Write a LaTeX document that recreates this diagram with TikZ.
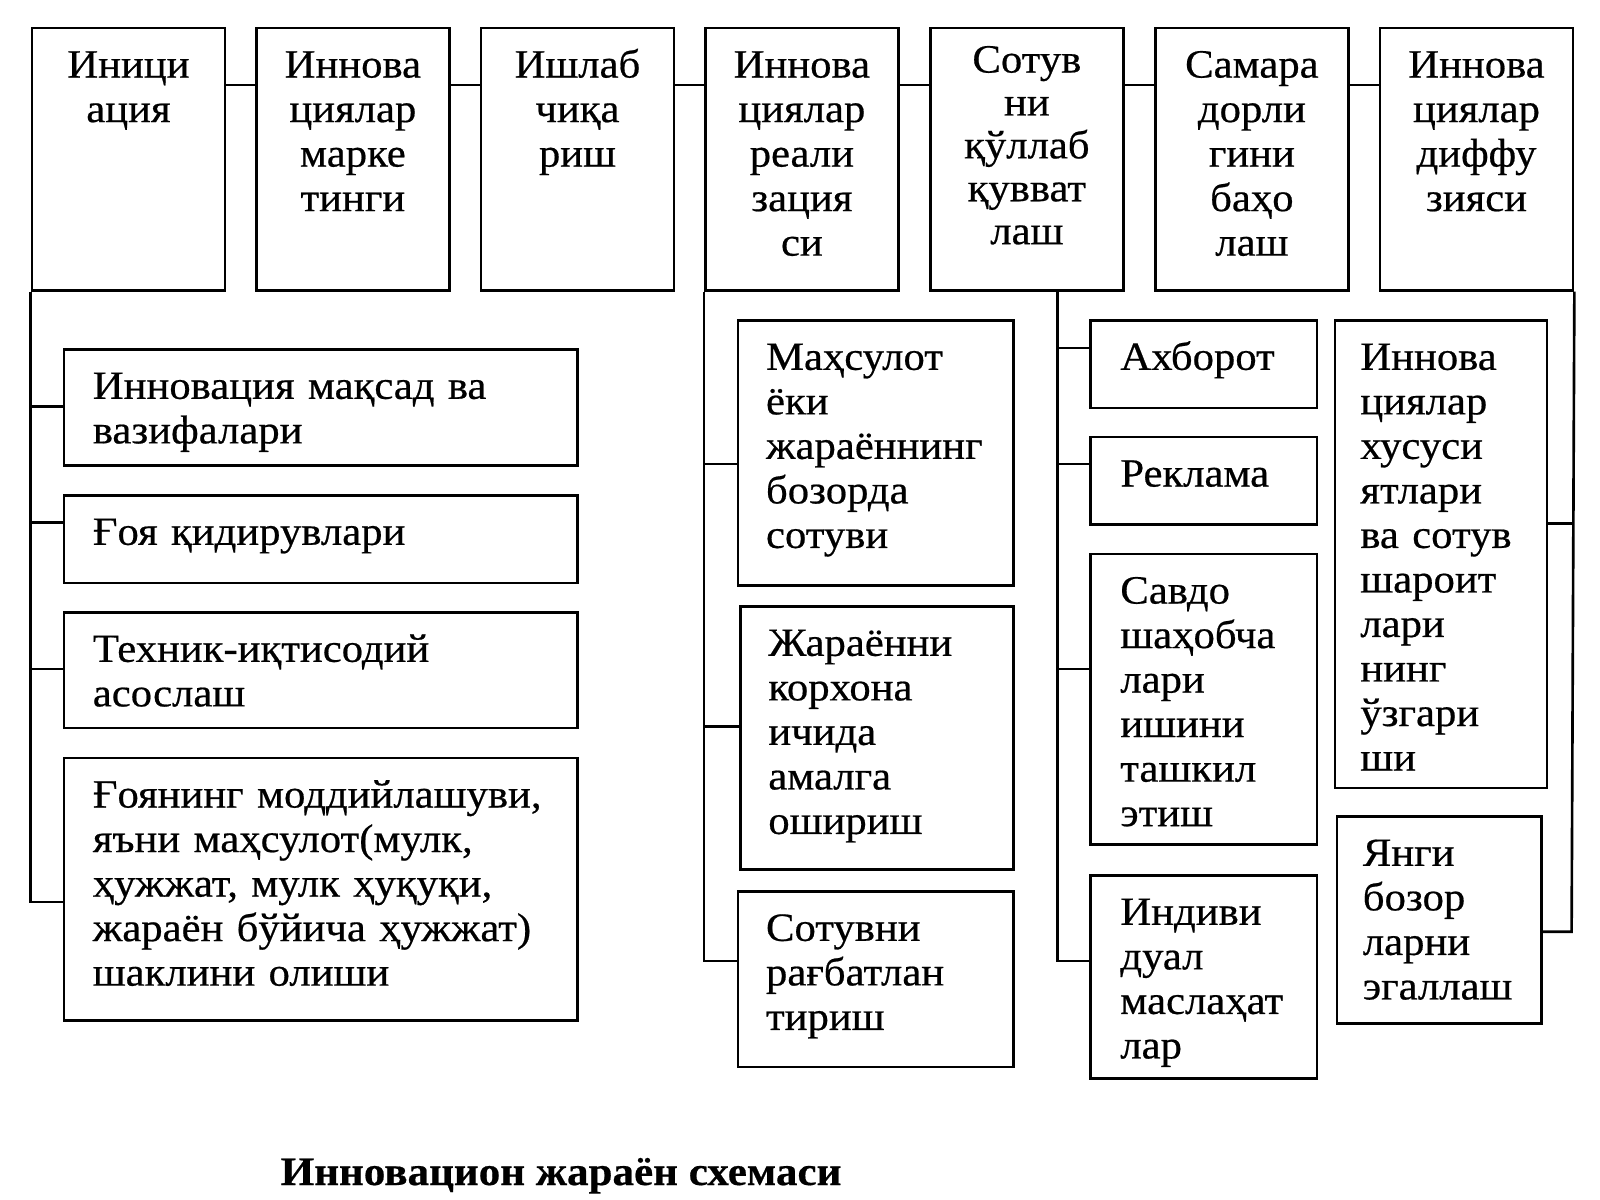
\documentclass[tikz,border=0pt]{standalone}
\usepackage{fontspec}
\setmainfont{Liberation Serif}[FakeStretch=1.065,FakeBold=0.5]
\newcommand{\boxfont}{\fontsize{11.4}{12.66}\selectfont}
\newcommand{\tightfont}{\fontsize{11.4}{12.2}\selectfont}
\newcommand{\titlefont}{\fontsize{11.5}{13}\selectfont\bfseries}

\begin{document}
\begin{tikzpicture}
[x=0.01cm,y=-0.01cm,
 box/.style={draw,line width=0.75pt,anchor=north west,inner ysep=0.215cm,text height=0.28cm,font=\boxfont,align=left},
 boxh/.code={\pgfmathsetlengthmacro\boxdp{#1*0.01cm-0.71cm}\tikzset{text depth=\boxdp}},
 topbox/.style={box,boxh=262.3,inner xsep=0.28cm,text width=1.37cm,align=center},
 leftbox/.style={box,inner xsep=0.29cm,text width=4.555cm},
 midbox/.style={box,inner xsep=0.28cm,text width=2.19cm},
 rightbox/.style={box,inner xsep=0.30cm,text width=1.665cm},
 link/.style={line width=0.75pt}]

% the page
\fill[white] (0,0) rectangle (1600,1200);

% the stages on top
\node[topbox] (t1) at (30.6,26.7) {Иници\\ация};
\node[topbox] (t2) at (255,26.7) {Иннова\\циялар\\марке\\тинги};
\node[topbox] (t3) at (479.6,26.7) {Ишлаб\\чиқа\\риш};
\node[topbox] (t4) at (704,26.7) {Иннова\\циялар\\реали\\зация\\си};
\node[topbox,font=\tightfont,text height=0.23cm,text depth=1.963cm] (t5) at (929,26.7) {Сотув\\ни\\қўллаб\\қувват\\лаш};
\node[topbox] (t6) at (1154,26.7) {Самара\\дорли\\гини\\баҳо\\лаш};
\node[topbox] (t7) at (1378.6,26.7) {Иннова\\циялар\\диффу\\зияси};

% the first column
\node[leftbox,boxh=116] (lA) at (62.5,348) {Инновация мақсад ва\\вазифалари};
\node[leftbox,boxh=87.7] (lB) at (62.5,494) {Ғоя қидирувлари};
\node[leftbox,boxh=115.7] (lC) at (62.5,611) {Техник-иқтисодий\\асослаш};
\node[leftbox,boxh=262.3] (lD) at (62.5,756.7) {Ғоянинг моддийлашуви,\\яъни маҳсулот(мулк,\\ҳужжат, мулк ҳуқуқи,\\жараён бўйича ҳужжат)\\шаклини олиши};

% the second column
\node[midbox,boxh=265] (mA) at (736.7,319) {Маҳсулот\\ёки\\жараённинг\\бозорда\\сотуви};
\node[midbox,boxh=263,text width=2.17cm] (mB) at (739,605) {Жараённи\\корхона\\ичида\\амалга\\ошириш};
\node[midbox,boxh=175.7] (mC) at (736.7,890) {Сотувни\\рағбатлан\\тириш};

% the third column
\node[rightbox,boxh=87.7] (rA) at (1089,319) {Ахборот};
\node[rightbox,boxh=87.6] (rB) at (1089,435.7) {Реклама};
\node[rightbox,boxh=290.6] (rC) at (1089,552.7) {Савдо\\шаҳобча\\лари\\ишини\\ташкил\\этиш};
\node[rightbox,boxh=203.3] (rD) at (1089,874) {Индиви\\дуал\\маслаҳат\\лар};

% the last column
\node[box,boxh=467.7,inner xsep=0.254cm,text width=1.612cm] (fA) at (1333.6,319) {Иннова\\циялар\\хусуси\\ятлари\\ва сотув\\шароит\\лари\\нинг\\ўзгари\\ши};
\node[box,boxh=207,inner xsep=0.26cm,text width=1.525cm] (fB) at (1335.5,815) {Янги\\бозор\\ларни\\эгаллаш};

% the caption
\node[anchor=base west,inner sep=0pt,font=\titlefont] (title) at (280,1185) {Инновацион жараён схемаси};

% the junctions
\coordinate (lj1) at (30.6,406.7);
\coordinate (lj2) at (30.6,522.7);
\coordinate (lj3) at (30.6,669);
\coordinate (lj4) at (30.6,902);
\coordinate (mj1) at (704,464);
\coordinate (mj2) at (704,726.7);
\coordinate (mj3) at (704,961);
\coordinate (rj1) at (1057.7,348);
\coordinate (rj2) at (1057.7,464);
\coordinate (rj3) at (1057.7,669);
\coordinate (rj4) at (1057.7,961);
\coordinate (fj1) at (1571.6,523.3);
\coordinate (fj2) at (1571.6,931.7);

% the chain on top
\draw[link] ([yshift=-0.583cm]t1.north east) -- ([yshift=-0.583cm]t2.north west);
\draw[link] ([yshift=-0.583cm]t2.north east) -- ([yshift=-0.583cm]t3.north west);
\draw[link] ([yshift=-0.583cm]t3.north east) -- ([yshift=-0.583cm]t4.north west);
\draw[link] ([yshift=-0.583cm]t4.north east) -- ([yshift=-0.583cm]t5.north west);
\draw[link] ([yshift=-0.583cm]t5.north east) -- ([yshift=-0.583cm]t6.north west);
\draw[link] ([yshift=-0.583cm]t6.north east) -- ([yshift=-0.583cm]t7.north west);

% the branches
\draw[link] (t1.south west) -- (lj4) -- (lj4 -| lD.west);
\draw[link] (lj1) -- (lj1 -| lA.west);
\draw[link] (lj2) -- (lj2 -| lB.west);
\draw[link] (lj3) -- (lj3 -| lC.west);

\draw[link] (t4.south west) -- (mj3) -- (mj3 -| mC.west);
\draw[link] (mj1) -- (mj1 -| mA.west);
\draw[link] (mj2) -- (mj2 -| mB.west);

\draw[link] (rj4 |- t5.south) -- (rj4) -- (rj4 -| rD.west);
\draw[link] (rj1) -- (rj1 -| rA.west);
\draw[link] (rj2) -- (rj2 -| rB.west);
\draw[link] (rj3) -- (rj3 -| rC.west);

\draw[link] (t7.south east) -- (fj2) -- (fj2 -| fB.east);
\draw[link] (fj1) -- (fj1 -| fA.east);

%
\end{tikzpicture}
\end{document}
